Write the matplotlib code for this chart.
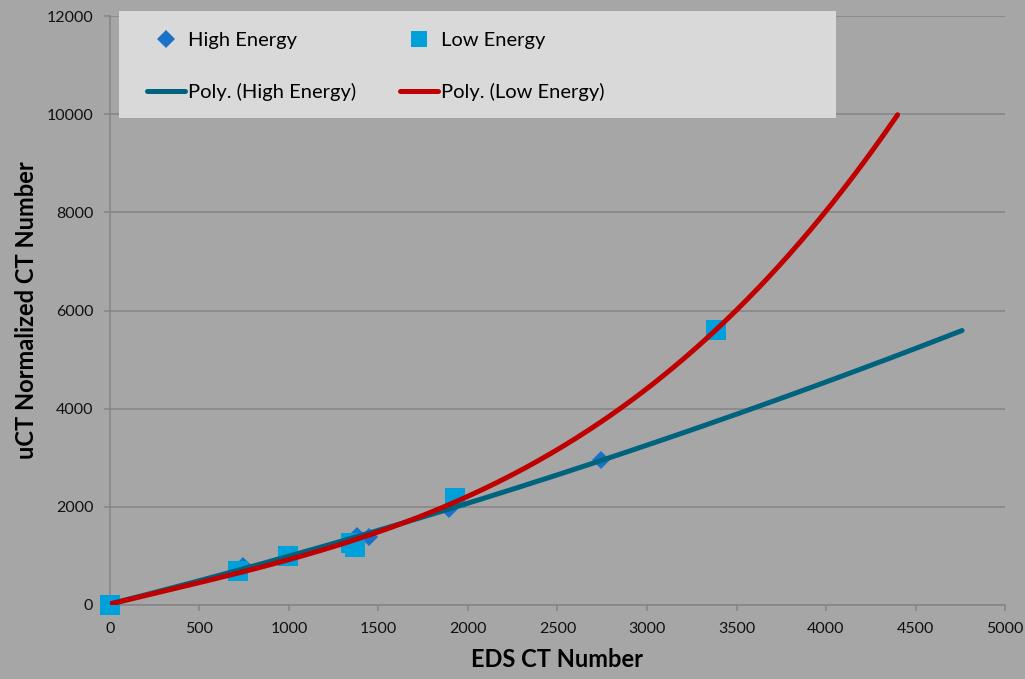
import numpy as np
import matplotlib.pyplot as plt
from matplotlib.lines import Line2D
from matplotlib.patches import Rectangle

plt.rcParams["font.family"] = ["Lato", "DejaVu Sans"]

# measured CT numbers
high_x = [0, 743, 990, 1380, 1445, 1894, 2743]
high_y = [0, 790, 1000, 1410, 1390, 1955, 2953]
low_x = [0, 715, 994, 1347, 1369, 1927, 3385]
low_y = [0, 700, 998, 1263, 1181, 2180, 5600]

# trendline order and forward forecast end
high_order, high_end = 2, 4760
low_order, low_end = 3, 4400

bg = "#A6A6A6"
grid_c = "#878787"
c_high = "#1A72C8"
c_low = "#00A0DA"
c_high_fit = "#00637E"
c_low_fit = "#C00000"

W, H = 1025, 679
fig = plt.figure(figsize=(W / 100, H / 100), dpi=100)
fig.patch.set_facecolor(bg)
ax = fig.add_axes([0.1073, 0.109, 0.8732, 0.8674])
ax.set_facecolor(bg)

# polynomial trendlines fitted to each series
xh = np.linspace(0, high_end, 300)
yh = np.polyval(np.polyfit(high_x, high_y, high_order), xh)
xl = np.linspace(0, low_end, 300)
yl = np.polyval(np.polyfit(low_x, low_y, low_order), xl)

ax.plot(high_x, high_y, "D", color=c_high, ms=9.2, mew=0, zorder=3, clip_on=False)
ax.plot(low_x, low_y, "s", color=c_low, ms=14.4, mew=0, zorder=3, clip_on=False)
ax.plot(xh, yh, color=c_high_fit, lw=3.6, solid_capstyle="round", zorder=4)
ax.plot(xl, yl, color=c_low_fit, lw=3.6, solid_capstyle="round", zorder=5)

ax.set_xlim(0, 5000)
ax.set_ylim(0, 12000)
ax.set_xticks(np.arange(0, 5001, 500))
ax.set_yticks(np.arange(0, 12001, 2000))
ax.grid(axis="y", color=grid_c, lw=1.2)
ax.set_axisbelow(True)
for s in ["top", "right"]:
    ax.spines[s].set_visible(False)
for s in ["left", "bottom"]:
    ax.spines[s].set_color(grid_c)
    ax.spines[s].set_linewidth(1.2)
ax.tick_params(colors=grid_c, labelcolor="#111111", labelsize=11.5, length=4,
               width=1.2, pad=8)

ax.set_xlabel("EDS CT Number", fontsize=17, fontweight="bold", labelpad=9)
ax.set_ylabel("uCT Normalized CT Number", fontsize=17, fontweight="bold",
              labelpad=6)

# legend panel
fig.add_artist(Rectangle((119 / W, 1 - 118 / H), 717 / W, 107 / H,
                         transform=fig.transFigure, facecolor="#D9D9D9",
                         edgecolor="none", zorder=8))

handles = [
    Line2D([], [], ls="none", marker="D", color=c_high, ms=9.2, mew=0),
    Line2D([], [], color=c_high_fit, lw=3.6, solid_capstyle="round"),
    Line2D([], [], ls="none", marker="s", color=c_low, ms=11, mew=0),
    Line2D([], [], color=c_low_fit, lw=3.6, solid_capstyle="round"),
]
labels = ["High Energy", "Poly. (High Energy)", "Low Energy", "Poly. (Low Energy)"]
leg = fig.legend(handles, labels, ncol=2, loc="upper left",
                 bbox_to_anchor=(147 / W, 1 - 32 / H),
                 fontsize=14.5, frameon=False,
                 handlelength=1.9, handletextpad=0.15, labelspacing=1.7,
                 borderpad=0, borderaxespad=0, columnspacing=2.15)
leg.set_zorder(10)

fig.savefig("out.png", dpi=100, facecolor=bg)
